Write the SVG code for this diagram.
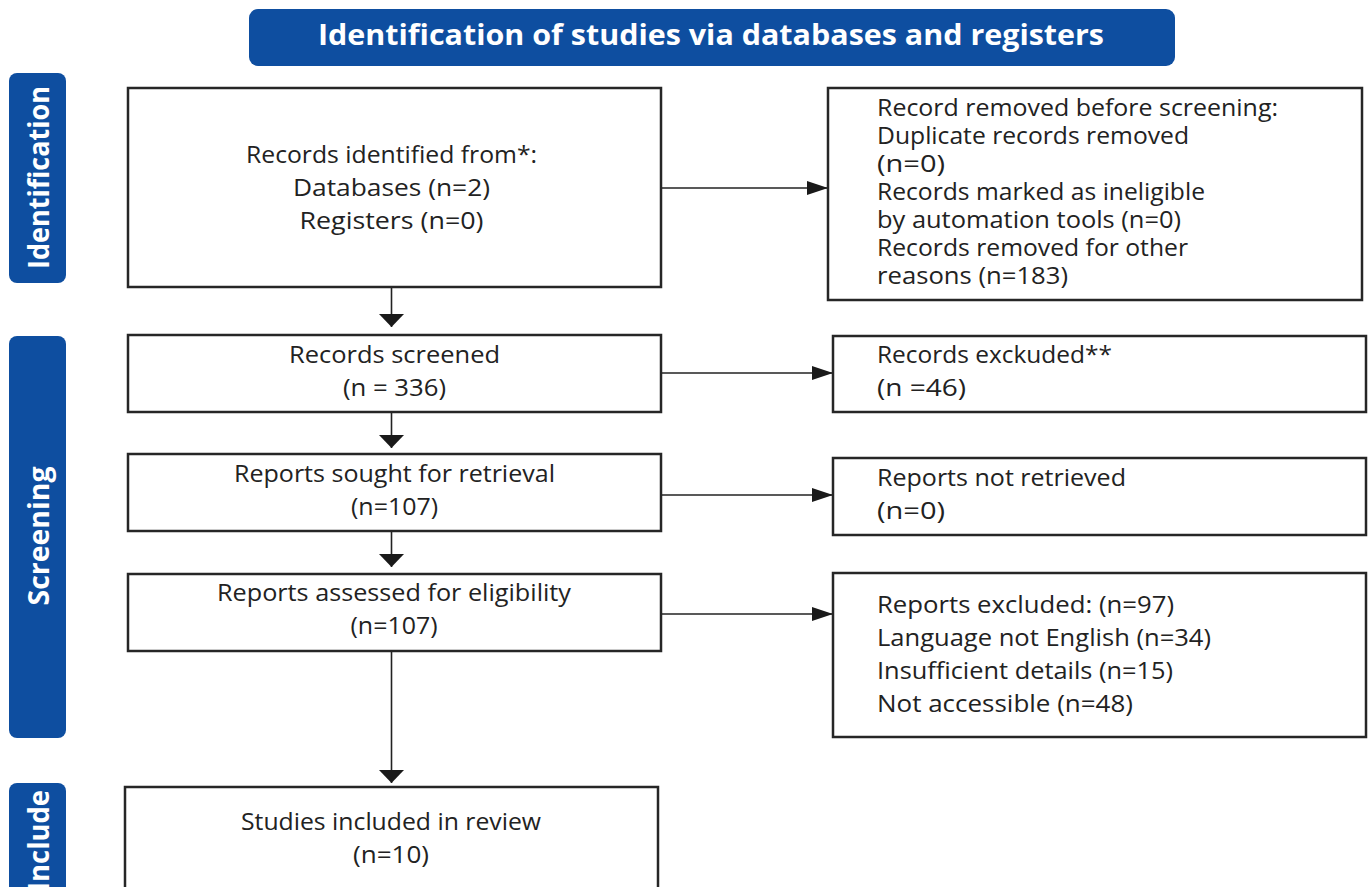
<svg xmlns="http://www.w3.org/2000/svg" width="1371" height="887" viewBox="0 0 1371 887">
<style>
.band{fill:#0e4ea0}
.bt{font-family:"Open Sans","Liberation Sans",sans-serif;font-weight:700;fill:#ffffff}
.box{fill:#ffffff;stroke:#262626;stroke-width:2.5}
.t{font-family:"Open Sans","Liberation Sans",sans-serif;font-size:23px;fill:#222222}
.c{text-anchor:middle}
.con{stroke:#222222;stroke-width:1.6;fill:none}
</style>
<defs>
<marker id="hr" markerUnits="userSpaceOnUse" markerWidth="22" markerHeight="16" refX="21" refY="8" orient="auto"><path d="M0,1 L21,8 L0,15 z" fill="#1a1a1a"/></marker>
<marker id="dn" markerUnits="userSpaceOnUse" markerWidth="14" markerHeight="26" refX="13" refY="13" orient="auto"><path d="M0,0.5 L13,13 L0,25.5 z" fill="#1a1a1a"/></marker>
</defs>
<rect width="1371" height="887" fill="#ffffff"/>

<g id="title">
<rect class="band" x="249" y="9" width="926" height="57" rx="9"/>
<text class="bt" x="711" y="45" text-anchor="middle" font-size="29" textLength="786" lengthAdjust="spacingAndGlyphs">Identification of studies via databases and registers</text>
</g>

<g id="stage-identification">
<rect class="band" x="9" y="73" width="57" height="210" rx="8"/>
<text class="bt" transform="translate(49,177.5) rotate(-90)" text-anchor="middle" font-size="28" textLength="183" lengthAdjust="spacingAndGlyphs">Identification</text>
</g>
<g id="stage-screening">
<rect class="band" x="9" y="336" width="57" height="402" rx="8"/>
<text class="bt" transform="translate(49,536) rotate(-90)" text-anchor="middle" font-size="28" textLength="139" lengthAdjust="spacingAndGlyphs">Screening</text>
</g>
<g id="stage-include">
<rect class="band" x="9" y="783" width="57" height="140" rx="8"/>
<text class="bt" transform="translate(49,840.5) rotate(-90)" text-anchor="middle" font-size="28" textLength="101" lengthAdjust="spacingAndGlyphs">Include</text>
</g>

<g id="connectors">
<line class="con" x1="391.5" y1="288" x2="391.5" y2="327" marker-end="url(#dn)"/>
<line class="con" x1="391.5" y1="413" x2="391.5" y2="448" marker-end="url(#dn)"/>
<line class="con" x1="391.5" y1="532" x2="391.5" y2="567" marker-end="url(#dn)"/>
<line class="con" x1="391.5" y1="652" x2="391.5" y2="783" marker-end="url(#dn)"/>
<line class="con" x1="662" y1="188" x2="828" y2="188" marker-end="url(#hr)"/>
<line class="con" x1="662" y1="373" x2="833" y2="373" marker-end="url(#hr)"/>
<line class="con" x1="662" y1="495" x2="833" y2="495" marker-end="url(#hr)"/>
<line class="con" x1="662" y1="614" x2="833" y2="614" marker-end="url(#hr)"/>
</g>

<g id="records-identified">
<rect class="box" x="128" y="88" width="533" height="199"/>
<text class="t c" x="391.5" y="163" textLength="291" lengthAdjust="spacingAndGlyphs">Records identified from*:</text>
<text class="t c" x="391.5" y="196" textLength="197" lengthAdjust="spacingAndGlyphs">Databases (n=2)</text>
<text class="t c" x="391.5" y="229" textLength="184" lengthAdjust="spacingAndGlyphs">Registers (n=0)</text>
</g>

<g id="records-removed">
<rect class="box" x="828" y="88" width="534" height="212"/>
<text class="t" x="877" y="116" textLength="401" lengthAdjust="spacingAndGlyphs">Record removed before screening:</text>
<text class="t" x="877" y="144" textLength="312" lengthAdjust="spacingAndGlyphs">Duplicate records removed</text>
<text class="t" x="877" y="172" textLength="68" lengthAdjust="spacingAndGlyphs">(n=0)</text>
<text class="t" x="877" y="200" textLength="328" lengthAdjust="spacingAndGlyphs">Records marked as ineligible</text>
<text class="t" x="877" y="228" textLength="304" lengthAdjust="spacingAndGlyphs">by automation tools (n=0)</text>
<text class="t" x="877" y="256" textLength="311" lengthAdjust="spacingAndGlyphs">Records removed for other</text>
<text class="t" x="877" y="284" textLength="191" lengthAdjust="spacingAndGlyphs">reasons (n=183)</text>
</g>

<g id="records-screened">
<rect class="box" x="128" y="335" width="533" height="77"/>
<text class="t c" x="394.5" y="363" textLength="211" lengthAdjust="spacingAndGlyphs">Records screened</text>
<text class="t c" x="394.5" y="396" textLength="103" lengthAdjust="spacingAndGlyphs">(n = 336)</text>
</g>

<g id="records-excluded">
<rect class="box" x="833" y="336" width="533" height="76"/>
<text class="t" x="877" y="363" textLength="235" lengthAdjust="spacingAndGlyphs">Records exckuded**</text>
<text class="t" x="877" y="396" textLength="89" lengthAdjust="spacingAndGlyphs">(n =46)</text>
</g>

<g id="reports-sought">
<rect class="box" x="128" y="454" width="533" height="77"/>
<text class="t c" x="394.5" y="482" textLength="321" lengthAdjust="spacingAndGlyphs">Reports sought for retrieval</text>
<text class="t c" x="394.5" y="515" textLength="87" lengthAdjust="spacingAndGlyphs">(n=107)</text>
</g>

<g id="reports-not-retrieved">
<rect class="box" x="833" y="458" width="533" height="77"/>
<text class="t" x="877" y="486" textLength="249" lengthAdjust="spacingAndGlyphs">Reports not retrieved</text>
<text class="t" x="877" y="519" textLength="68" lengthAdjust="spacingAndGlyphs">(n=0)</text>
</g>

<g id="reports-assessed">
<rect class="box" x="128" y="574" width="533" height="77"/>
<text class="t c" x="394" y="601" textLength="354" lengthAdjust="spacingAndGlyphs">Reports assessed for eligibility</text>
<text class="t c" x="394" y="634" textLength="87" lengthAdjust="spacingAndGlyphs">(n=107)</text>
</g>

<g id="reports-excluded">
<rect class="box" x="833" y="573" width="533" height="164"/>
<text class="t" x="877" y="613" textLength="297" lengthAdjust="spacingAndGlyphs">Reports excluded: (n=97)</text>
<text class="t" x="877" y="646" textLength="334" lengthAdjust="spacingAndGlyphs">Language not English (n=34)</text>
<text class="t" x="877" y="679" textLength="296" lengthAdjust="spacingAndGlyphs">Insufficient details (n=15)</text>
<text class="t" x="877" y="712" textLength="256" lengthAdjust="spacingAndGlyphs">Not accessible (n=48)</text>
</g>

<g id="studies-included">
<rect class="box" x="125" y="787" width="533" height="130"/>
<text class="t c" x="391" y="830" textLength="300" lengthAdjust="spacingAndGlyphs">Studies included in review</text>
<text class="t c" x="391" y="863" textLength="76" lengthAdjust="spacingAndGlyphs">(n=10)</text>
</g>
</svg>
